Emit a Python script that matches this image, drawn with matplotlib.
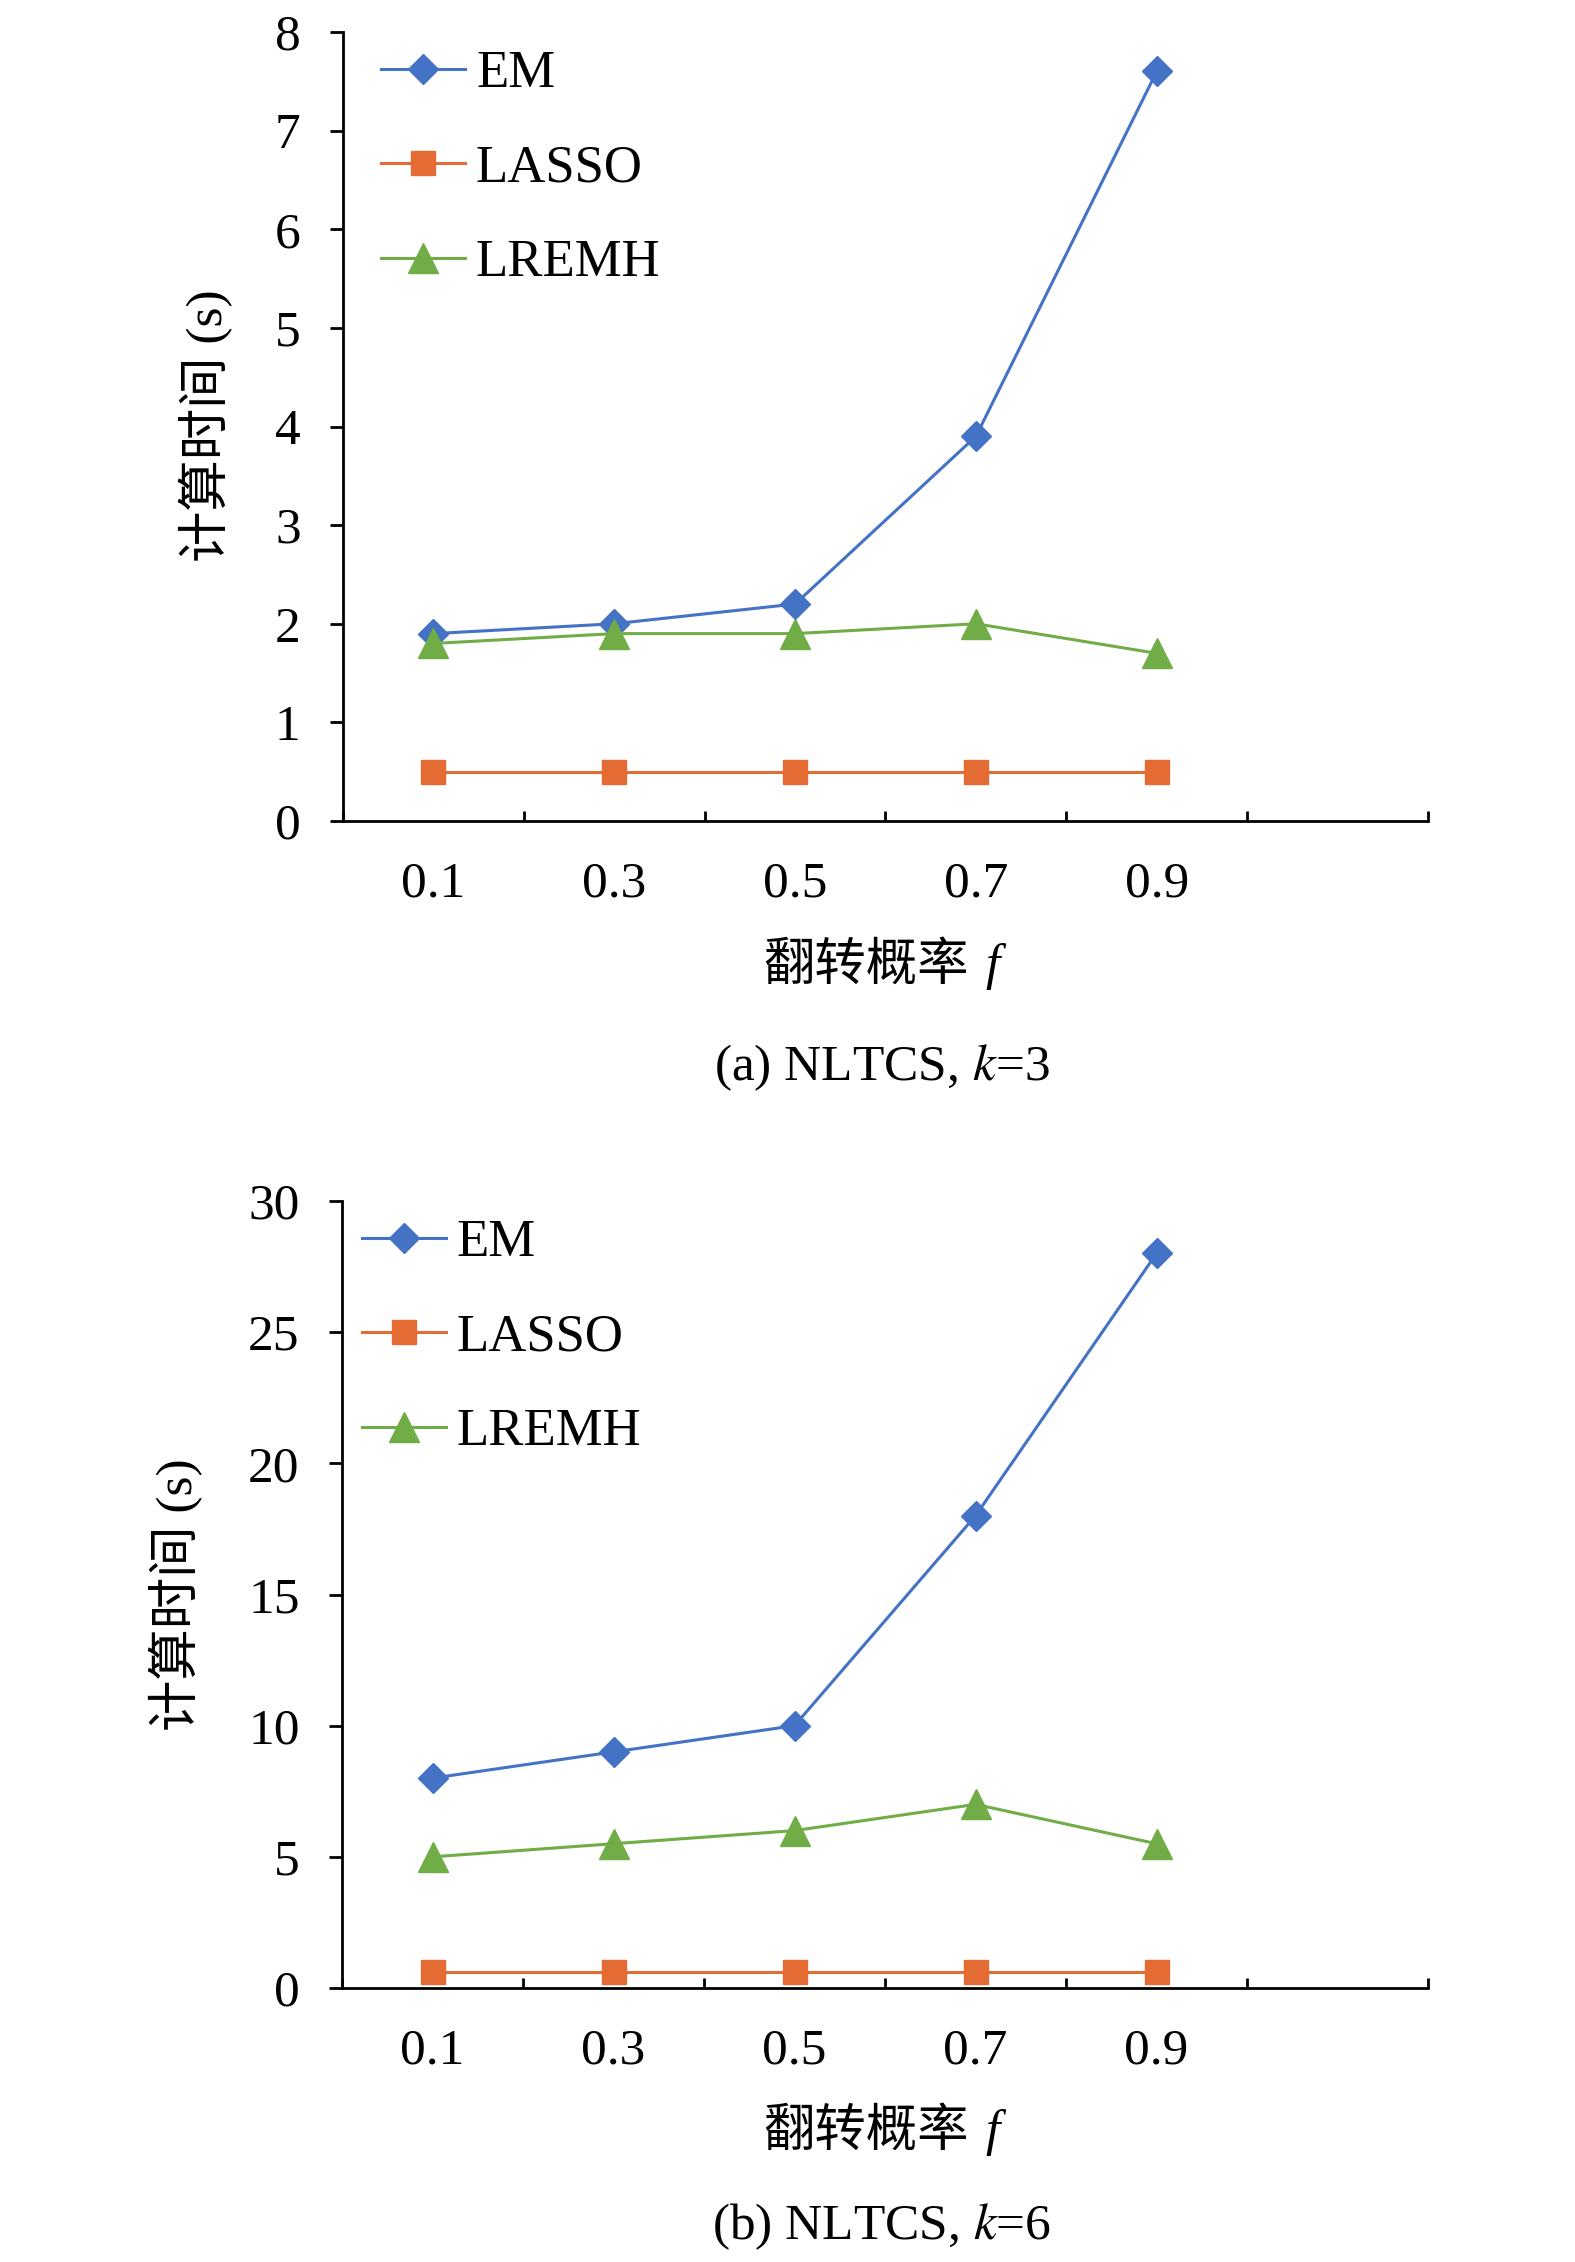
import matplotlib
matplotlib.use('Agg')
import matplotlib.pyplot as plt
import numpy as np

# data
f_labels = ['0.1', '0.3', '0.5', '0.7', '0.9']
em_k3 = [1.9, 2.0, 2.2, 3.9, 7.6]
lasso_k3 = [0.5, 0.5, 0.5, 0.5, 0.5]
lremh_k3 = [1.8, 1.9, 1.9, 2.0, 1.7]
em_k6 = [8.0, 9.0, 10.0, 18.0, 28.0]
lasso_k6 = [0.6, 0.6, 0.6, 0.6, 0.6]
lremh_k6 = [5.0, 5.5, 6.0, 7.0, 5.5]
series_names = ['EM', 'LASSO', 'LREMH']

plt.rcParams['font.family'] = ['Liberation Serif', 'Noto Sans CJK SC']
plt.rcParams['mathtext.fontset'] = 'stix'

W, H = 1575, 2262
fig = plt.figure(figsize=(W / 100, H / 100), dpi=100)

blue = '#4472C4'
orange = '#E46C34'
green = '#70AD47'
fs = 37


def box(l, r, t, b):
    return [l / W, 1 - b / H, (r - l) / W, (b - t) / H]


def panel(rect, em, lasso, lremh, ymax, ystep, leg_anchor):
    ax = fig.add_axes(rect)
    x = np.arange(len(f_labels))
    ax.plot(x, em, color=blue, lw=2.2, marker='D', ms=15, mfc=blue, mec=blue, label=series_names[0])
    ax.plot(x, lasso, color=orange, lw=2.2, marker='s', ms=17.5, mfc=orange, mec=orange, label=series_names[1])
    ax.plot(x, lremh, color=green, lw=2.2, marker='^', ms=21, mfc=green, mec=green, label=series_names[2])
    ax.set_xlim(-0.5, 5.5)
    ax.set_ylim(0, ymax)
    ax.set_yticks(np.arange(0, ymax + 0.01, ystep))
    ax.set_xticks(x)
    ax.set_xticklabels(f_labels)
    ax.set_xticks(np.arange(-0.5, 5.6, 1), minor=True)
    ax.tick_params(axis='x', which='major', length=0, pad=29, labelsize=fs)
    ax.tick_params(axis='x', which='minor', direction='in', length=7.5, width=2)
    ax.tick_params(axis='y', direction='out', length=9.5, width=2, pad=21, labelsize=fs)
    for s in ['top', 'right']:
        ax.spines[s].set_visible(False)
    for s in ['left', 'bottom']:
        ax.spines[s].set_linewidth(2)
    ax.legend(loc='upper left', bbox_to_anchor=leg_anchor, frameon=False, fontsize=fs + 1,
              handlelength=1.6, handletextpad=0.2, labelspacing=0.88, borderpad=0, borderaxespad=0)
    return ax


ax1 = panel(box(343, 1428, 32, 821), em_k3, lasso_k3, lremh_k3, 8, 1, (0.035, 0.977))
ax2 = panel(box(342, 1428, 1201, 1988), em_k6, lasso_k6, lremh_k6, 30, 5, (0.018, 0.977))

# axis labels and captions
fig.text(206 / W, 1 - 426 / H, '计算时间 (s)', rotation=90, ha='center', va='center', fontsize=fs)
fig.text(176 / W, 1 - 1595 / H, '计算时间 (s)', rotation=90, ha='center', va='center', fontsize=fs)

for yc in [967, 2133]:
    fig.text(866 / W, 1 - yc / H, '翻转概率', ha='center', va='center', fontsize=fs)
    fig.text(985 / W, 1 - yc / H, 'f', ha='left', va='center', fontsize=fs, style='italic')

fig.text(882 / W, 1 - 1068 / H, r'(a) NLTCS, $k$=3', ha='center', va='center', fontsize=fs)
fig.text(882 / W, 1 - 2227 / H, r'(b) NLTCS, $k$=6', ha='center', va='center', fontsize=fs)

fig.savefig('out.png', dpi=100)
